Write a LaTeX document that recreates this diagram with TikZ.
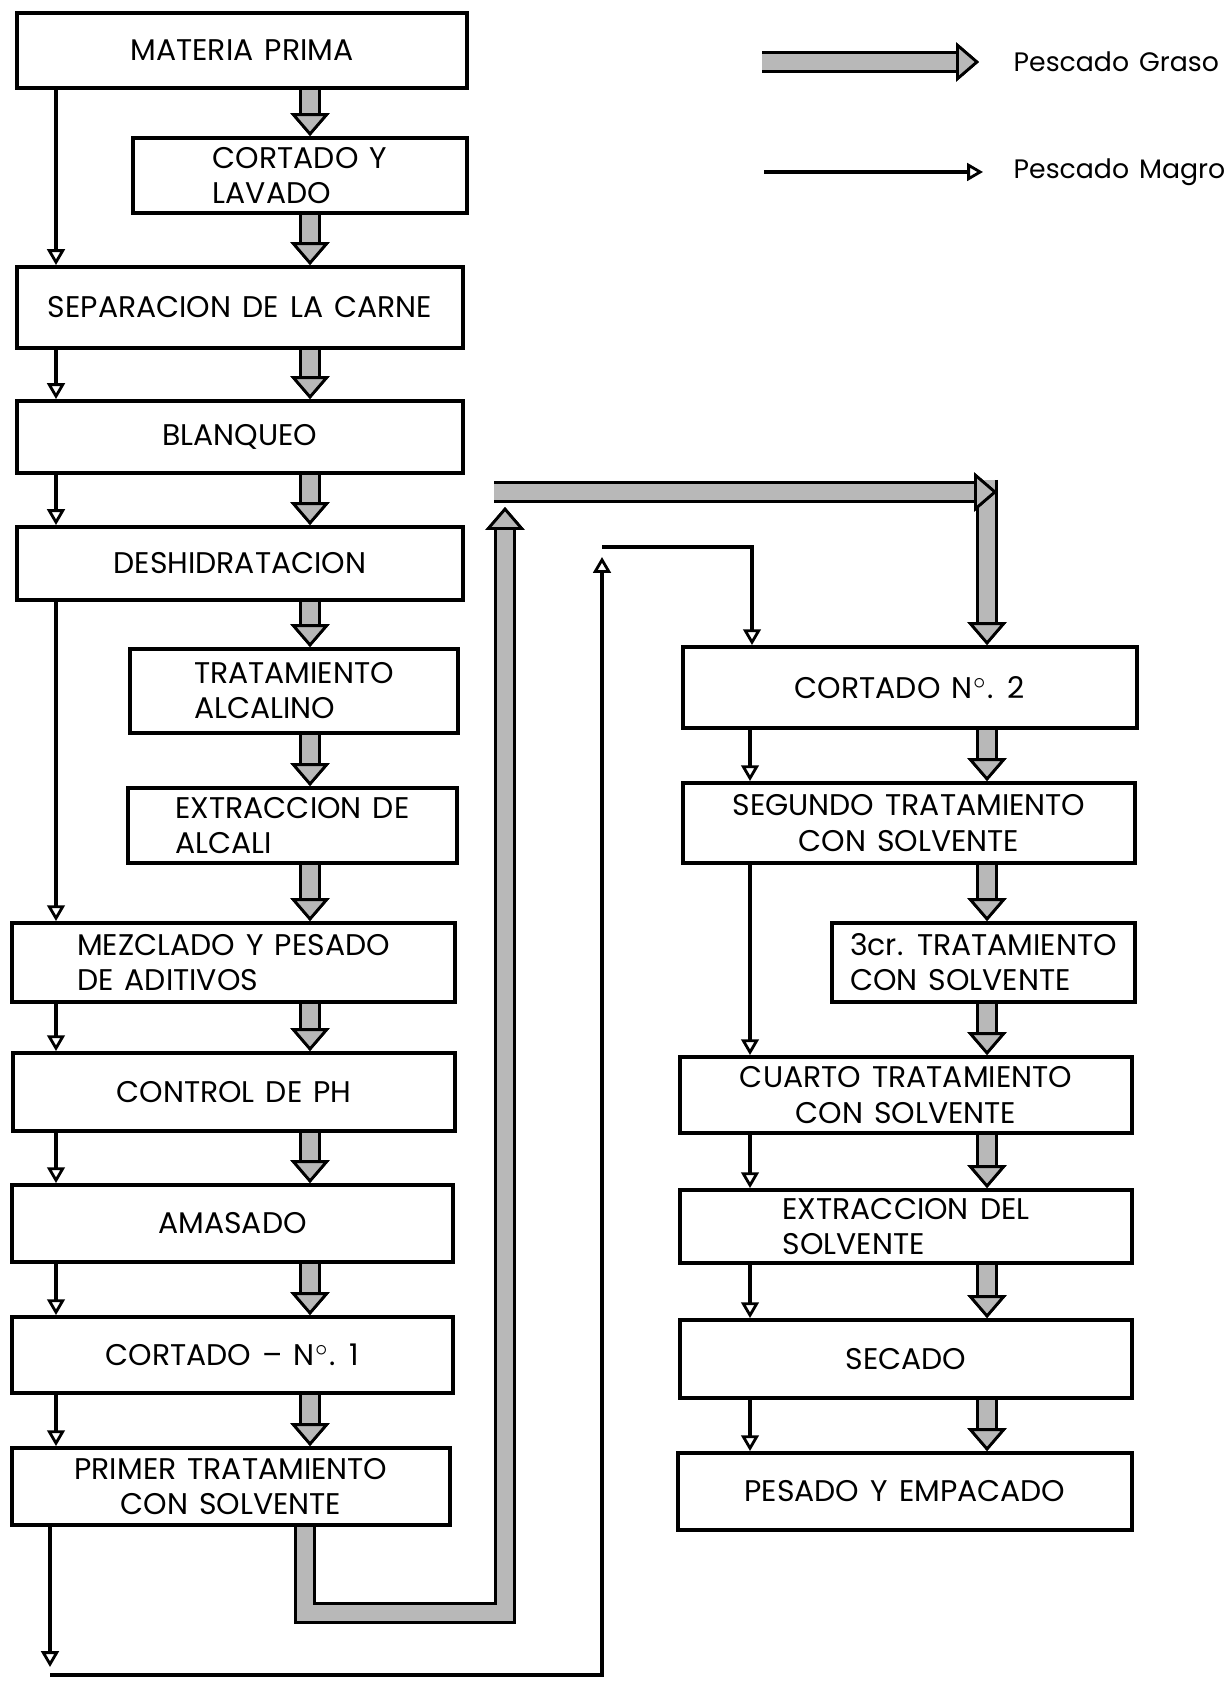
\documentclass[tikz,border=0pt]{standalone}
\usepackage{fontspec}
\setmainfont{Poppins}[WordSpace=1.4]
\usetikzlibrary{arrows.meta}

\begin{document}
\begin{tikzpicture}[
  proc/.style={draw, line width=1.1pt, inner sep=2pt, align=center,
               font=\fontsize{8.5}{10}\selectfont},
  magro/.style={line width=0.9pt,
                -{Triangle[open, width=5pt, length=4.5pt, line width=0.8pt]}},
  graso/.style={draw=black!28, line width=4.6pt,
                preaction={draw=black, line width=6.4pt},
                -{Triangle[width=11pt, length=6.5pt, line width=0.8pt, color=black, fill=black!28]}},
  lbl/.style={inner sep=0pt, font=\fontsize{7.6}{9}\selectfont},
]
\useasboundingbox (0,0) rectangle (12.27,-16.81);

% Left column
\node[proc, minimum width=4.50cm, minimum height=0.75cm] (mp) at (2.42,-0.505) {MATERIA PRIMA};
\node[proc, minimum width=3.34cm, minimum height=0.75cm, align=left] (cyl) at (3.00,-1.755) {CORTADO Y\\LAVADO};
\node[proc, minimum width=4.46cm, minimum height=0.81cm] (sep) at (2.40,-3.075) {SEPARACION DE LA CARNE};
\node[proc, minimum width=4.46cm, minimum height=0.72cm] (blq) at (2.40,-4.37) {BLANQUEO};
\node[proc, minimum width=4.46cm, minimum height=0.73cm] (desh) at (2.40,-5.635) {DESHIDRATACION};
\node[proc, minimum width=3.28cm, minimum height=0.84cm, align=left] (alc) at (2.94,-6.91) {TRATAMIENTO\\ALCALINO};
\node[proc, minimum width=3.29cm, minimum height=0.75cm, align=left] (ext) at (2.925,-8.255) {EXTRACCION DE\\ALCALI};
\node[proc, minimum width=4.43cm, minimum height=0.79cm, align=left] (mez) at (2.335,-9.625) {MEZCLADO Y PESADO\\DE ADITIVOS};
\node[proc, minimum width=4.42cm, minimum height=0.78cm] (ph) at (2.34,-10.92) {CONTROL DE PH};
\node[proc, minimum width=4.41cm, minimum height=0.77cm] (ama) at (2.325,-12.235) {AMASADO};
\node[proc, minimum width=4.41cm, minimum height=0.76cm] (c1) at (2.325,-13.55) {CORTADO -- N$^{\circ}$. 1};
\node[proc, minimum width=4.38cm, minimum height=0.77cm] (pri) at (2.31,-14.865) {PRIMER TRATAMIENTO\\CON SOLVENTE};

% Right column
\node[proc, minimum width=4.54cm, minimum height=0.81cm] (c2) at (9.10,-6.875) {CORTADO N$^{\circ}$. 2};
\node[proc, minimum width=4.52cm, minimum height=0.80cm] (seg) at (9.09,-8.23) {SEGUNDO TRATAMIENTO\\CON SOLVENTE};
\node[proc, minimum width=3.03cm, minimum height=0.79cm, align=left] (ter) at (9.835,-9.625) {3cr. TRATAMIENTO\\CON SOLVENTE};
\node[proc, minimum width=4.52cm, minimum height=0.76cm] (cua) at (9.06,-10.95) {CUARTO TRATAMIENTO\\CON SOLVENTE};
\node[proc, minimum width=4.52cm, minimum height=0.73cm, align=left] (exs) at (9.06,-12.265) {EXTRACCION DEL\\SOLVENTE};
\node[proc, minimum width=4.52cm, minimum height=0.78cm] (sec) at (9.06,-13.59) {SECADO};
\node[proc, minimum width=4.54cm, minimum height=0.77cm] (pes) at (9.05,-14.915) {PESADO Y EMPACADO};

% Legend
\node[lbl, anchor=west] (tgraso) at (10.13,-0.62) {Pescado Graso};
\node[lbl, anchor=west] (tmagro) at (10.13,-1.72) {Pescado Magro};
\coordinate (lg) at (7.62,-0.62);
\coordinate (lm) at (7.64,-1.72);
\draw[graso] (lg) -- ([xshift=-0.34cm]tgraso.west);
\draw[magro] (lm) -- ([xshift=-0.30cm]tmagro.west);

% Columns of the two flows
\coordinate (lx) at (0.56,0);
\coordinate (gx) at (3.10,0);
\coordinate (rx) at (7.50,0);
\coordinate (rg) at (9.87,0);

% Pescado magro, left column
\draw[magro] (mp.south -| lx) -- (sep.north -| lx);
\draw[magro] (sep.south -| lx) -- (blq.north -| lx);
\draw[magro] (blq.south -| lx) -- (desh.north -| lx);
\draw[magro] (desh.south -| lx) -- (mez.north -| lx);
\draw[magro] (mez.south -| lx) -- (ph.north -| lx);
\draw[magro] (ph.south -| lx) -- (ama.north -| lx);
\draw[magro] (ama.south -| lx) -- (c1.north -| lx);
\draw[magro] (c1.south -| lx) -- (pri.north -| lx);

% Pescado graso, left column
\draw[graso] (mp.south -| gx) -- (cyl.north -| gx);
\draw[graso] (cyl.south -| gx) -- (sep.north -| gx);
\draw[graso] (sep.south -| gx) -- (blq.north -| gx);
\draw[graso] (blq.south -| gx) -- (desh.north -| gx);
\draw[graso] (desh.south -| gx) -- (alc.north -| gx);
\draw[graso] (alc.south -| gx) -- (ext.north -| gx);
\draw[graso] (ext.south -| gx) -- (mez.north -| gx);
\draw[graso] (mez.south -| gx) -- (ph.north -| gx);
\draw[graso] (ph.south -| gx) -- (ama.north -| gx);
\draw[graso] (ama.south -| gx) -- (c1.north -| gx);
\draw[graso] (c1.south -| gx) -- (pri.north -| gx);

% Transfer to the right column
\coordinate (g1) at (3.05,-16.13);
\coordinate (g2) at (5.05,-16.13);
\coordinate (g3) at (5.05,-5.07);
\coordinate (g4) at (4.94,-4.92);
\coordinate (g5) at (9.97,-4.92);
\coordinate (g6) at (9.87,-4.80);
\draw[graso] (pri.south -| g1) -- (g1) -- (g2) -- (g3);
\draw[graso] (g6) -- (c2.north -| g6);
\draw[graso] (g4) -- (g5);

\coordinate (m1) at (0.50,-16.67);
\coordinate (m2) at (0.50,-16.75);
\coordinate (m3) at (6.02,-16.75);
\coordinate (m4) at (6.02,-5.57);
\coordinate (m5) at (6.02,-5.47);
\coordinate (m6) at (7.52,-5.47);
\draw[magro] (pri.south -| m1) -- (m1);
\draw[magro] (m2) -- (m3) -- (m4);
\draw[magro] (m5) -- (m6) -- (c2.north -| m6);

% Pescado magro, right column
\draw[magro] (c2.south -| rx) -- (seg.north -| rx);
\draw[magro] (seg.south -| rx) -- (cua.north -| rx);
\draw[magro] (cua.south -| rx) -- (exs.north -| rx);
\draw[magro] (exs.south -| rx) -- (sec.north -| rx);
\draw[magro] (sec.south -| rx) -- (pes.north -| rx);

% Pescado graso, right column
\draw[graso] (c2.south -| rg) -- (seg.north -| rg);
\draw[graso] (seg.south -| rg) -- (ter.north -| rg);
\draw[graso] (ter.south -| rg) -- (cua.north -| rg);
\draw[graso] (cua.south -| rg) -- (exs.north -| rg);
\draw[graso] (exs.south -| rg) -- (sec.north -| rg);
\draw[graso] (sec.south -| rg) -- (pes.north -| rg);
\end{tikzpicture}
\end{document}
